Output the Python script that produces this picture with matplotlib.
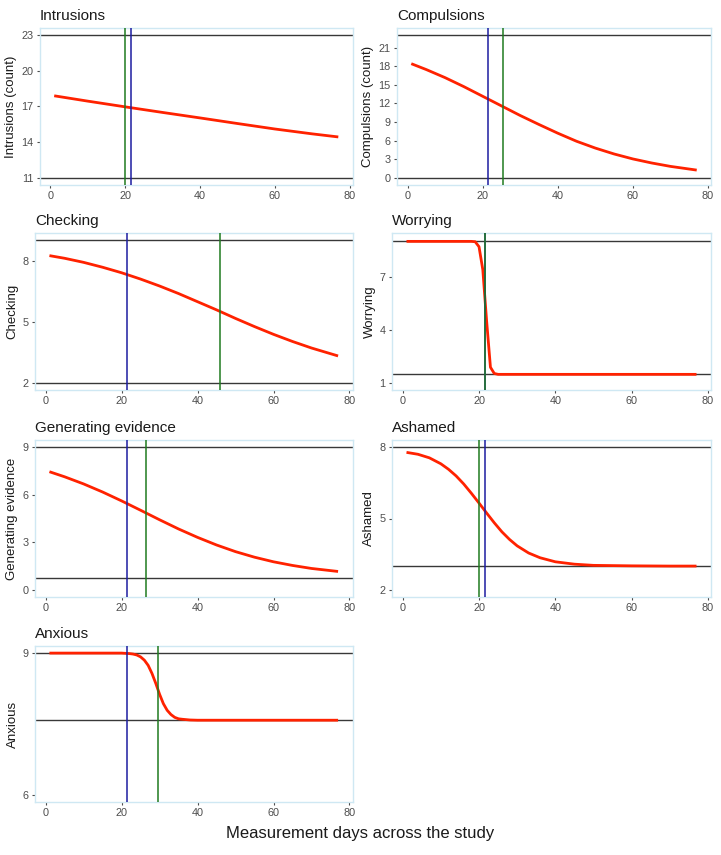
import matplotlib
matplotlib.use("Agg")
import matplotlib.pyplot as plt

plt.rcParams["font.family"] = ["Liberation Sans", "DejaVu Sans"]

# panel names / y labels
titles = ["Intrusions", "Compulsions", "Checking", "Worrying",
          "Generating evidence", "Ashamed", "Anxious"]
ylabels = ["Intrusions (count)", "Compulsions (count)", "Checking", "Worrying",
           "Generating evidence", "Ashamed", "Anxious"]

# fitted curves (day, value)
intr_x = [1, 10, 20, 30, 40, 50, 60, 70, 77]
intr_y = [17.9, 17.45, 16.97, 16.5, 16.04, 15.57, 15.11, 14.7, 14.44]

comp_x = [1, 5, 10, 15, 20, 25, 30, 35, 40, 45, 50, 55, 60, 65, 70, 77]
comp_y = [18.4, 17.45, 16.15, 14.7, 13.15, 11.6, 10.05, 8.6, 7.2, 5.9, 4.8, 3.85,
          3.05, 2.4, 1.85, 1.25]

chk_x = [1, 5, 10, 15, 20, 25, 30, 35, 40, 45, 50, 55, 60, 65, 70, 77]
chk_y = [8.24, 8.11, 7.91, 7.67, 7.4, 7.09, 6.75, 6.38, 5.98, 5.58, 5.16, 4.76,
         4.38, 4.03, 3.71, 3.32]

wor_x = [1, 5, 10, 15, 18, 19, 20, 21, 22, 23, 24, 25, 30, 40, 50, 60, 70, 77]
wor_y = [9.0, 9.0, 9.0, 9.0, 9.0, 8.98, 8.7, 7.4, 4.5, 1.9, 1.55, 1.5, 1.5, 1.5,
         1.5, 1.5, 1.5, 1.5]

gen_x = [1, 5, 10, 15, 20, 25, 30, 35, 40, 45, 50, 55, 60, 65, 70, 77]
gen_y = [7.45, 7.13, 6.68, 6.17, 5.61, 5.02, 4.42, 3.84, 3.31, 2.83, 2.41, 2.06,
         1.77, 1.54, 1.35, 1.16]

ash_x = [1, 4, 7, 10, 12, 14, 16, 18, 20, 22, 24, 26, 28, 30, 33, 36, 40, 45, 50,
         60, 70, 77]
ash_y = [7.78, 7.7, 7.55, 7.3, 7.07, 6.79, 6.45, 6.06, 5.65, 5.23, 4.82, 4.44,
         4.12, 3.85, 3.55, 3.35, 3.18, 3.08, 3.03, 3.01, 3.0, 3.0]

anx_x = [1, 10, 20, 22, 23, 24, 25, 26, 27, 28, 29, 30, 31, 32, 33, 34, 35, 36,
         38, 40, 50, 60, 70, 77]
anx_y = [9.0, 9.0, 9.0, 8.99, 8.98, 8.96, 8.92, 8.85, 8.74, 8.57, 8.36, 8.13,
         7.93, 7.79, 7.7, 7.64, 7.61, 7.6, 7.585, 7.58, 7.58, 7.58, 7.58, 7.58]

curves_x = [intr_x, comp_x, chk_x, wor_x, gen_x, ash_x, anx_x]
curves_y = [intr_y, comp_y, chk_y, wor_y, gen_y, ash_y, anx_y]

# horizontal reference lines (scale bounds)
hline_lo = [11, 0, 2, 1.5, 0.75, 3, 7.58]
hline_hi = [23, 23, 9, 9, 9, 8, 9]
# vertical reference lines (days)
blue_day = [21.5, 21.5, 21.5, 21.5, 21.5, 21.5, 21.5]
green_day = [20, 25.5, 46, 21.5, 26.5, 20, 29.5]

# y scale ranges and ticks
yrange = [(11, 23), (0, 23), (2, 9), (1.02, 9.07), (0, 9), (2, 8), (6, 9)]
yticks = [[11, 14, 17, 20, 23], [0, 3, 6, 9, 12, 15, 18, 21], [2, 5, 8], [1, 4, 7],
          [0, 3, 6, 9], [2, 5, 8], [6, 9]]
xticks = [0, 20, 40, 60, 80]

W, H = 721, 855
# panel boxes in pixels: left, right, top, bottom
boxes = [(40, 352.5, 28, 185), (397, 711, 28, 185),
         (35, 352.5, 233, 390), (392, 711, 233, 390),
         (35, 352.5, 440, 597), (392, 711, 440, 597),
         (35, 352.5, 646, 802)]

fig = plt.figure(figsize=(W / 100, H / 100), dpi=100)
border = "#cfe8f3"
for i in range(7):
    l, r, t, b = boxes[i]
    ax = fig.add_axes([l / W, 1 - b / H, (r - l) / W, (b - t) / H])
    ax.plot(curves_x[i], curves_y[i], color="#ff2200", lw=2.0, zorder=3,
            solid_capstyle="butt", solid_joinstyle="round")
    ax.axhline(hline_lo[i], color="#383838", lw=1.0, zorder=2)
    ax.axhline(hline_hi[i], color="#383838", lw=1.0, zorder=2)
    ax.axvline(blue_day[i], color="#1c1ca0", lw=1.1, zorder=4)
    ax.axvline(green_day[i], color="#1f7a1f", lw=1.1, zorder=4)
    lo, hi = yrange[i]
    pad = (hi - lo) * 0.05
    ax.set_ylim(lo - pad, hi + pad)
    ax.set_xlim(-2.8, 80.8)
    ax.set_xticks(xticks)
    ax.set_yticks(yticks[i])
    for s in ax.spines.values():
        s.set_color(border)
        s.set_linewidth(1.0)
    ax.tick_params(colors="#4d4d4d", labelsize=7.8, length=2.5, width=0.8,
                   pad=2)
    ax.set_title(titles[i], loc="left", fontsize=11, pad=6, color="#1a1a1a")
    ax.set_ylabel(ylabels[i], fontsize=9.5, labelpad=3, color="#1a1a1a")

fig.text(360 / W, 1 - 833 / H, "Measurement days across the study",
         ha="center", va="center", fontsize=12, color="#1a1a1a")

fig.savefig("out.png", dpi=100)
